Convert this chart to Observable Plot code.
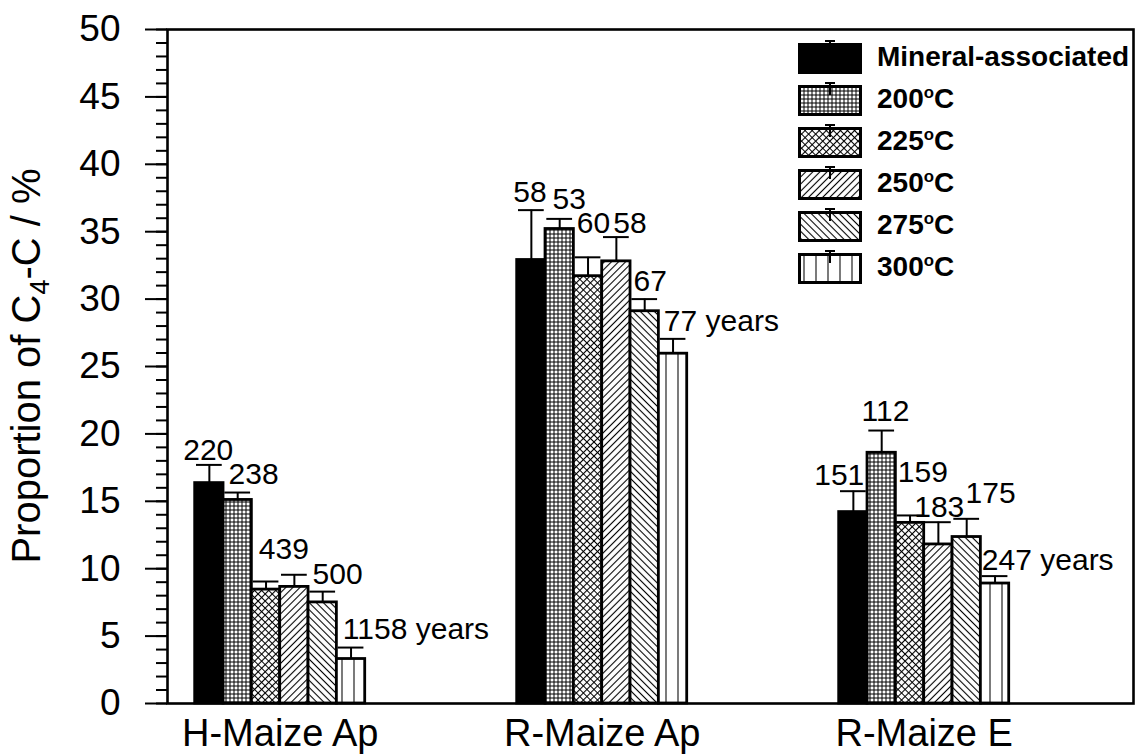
<!DOCTYPE html>
<html>
<head>
<meta charset="utf-8">
<script src="https://cdn.jsdelivr.net/npm/d3@7"></script>
<script src="https://cdn.jsdelivr.net/npm/@observablehq/plot@0.6"></script>
<style>
  body { margin: 0; background: #fff; font-family: "Liberation Sans", Arial, sans-serif; }
  #wrap { position: relative; width: 1140px; height: 754px; }
  #legend .sw { position: absolute; left: 798px; width: 64px; height: 31px; }
  #legend .lb { position: absolute; left: 877px; height: 31px; line-height: 31px;
                font-size: 28px; font-weight: bold; color: #000; white-space: nowrap; }
  #legend .lb sup { font-size: 0.6em; line-height: 0; vertical-align: 0.62em; }
</style>
</head>
<body>
<!-- fill patterns for the temperature fractions -->
<svg width="0" height="0" style="position:absolute">
  <defs>
    <pattern id="pat-solid" width="4" height="4" patternUnits="userSpaceOnUse">
      <rect width="4" height="4" fill="#000"/>
    </pattern>
    <pattern id="pat-grid" width="4" height="4" patternUnits="userSpaceOnUse">
      <rect width="4" height="4" fill="#fff"/>
      <path d="M0 2H4M2 0V4" stroke="#000" stroke-width="1"/>
    </pattern>
    <pattern id="pat-cross" width="5" height="5" patternUnits="userSpaceOnUse" patternTransform="rotate(45)">
      <rect width="5" height="5" fill="#fff"/>
      <path d="M0 2.5H5M2.5 0V5" stroke="#000" stroke-width="1.1"/>
    </pattern>
    <pattern id="pat-fwd" width="5" height="5" patternUnits="userSpaceOnUse" patternTransform="rotate(45)">
      <rect width="5" height="5" fill="#fff"/>
      <line x1="2.5" y1="0" x2="2.5" y2="5" stroke="#000" stroke-width="1.1"/>
    </pattern>
    <pattern id="pat-back" width="5" height="5" patternUnits="userSpaceOnUse" patternTransform="rotate(-45)">
      <rect width="5" height="5" fill="#fff"/>
      <line x1="2.5" y1="0" x2="2.5" y2="5" stroke="#000" stroke-width="1.1"/>
    </pattern>
    <pattern id="pat-vert" width="12" height="4" patternUnits="userSpaceOnUse">
      <rect width="12" height="4" fill="#fff"/>
      <line x1="6" y1="0" x2="6" y2="4" stroke="#333" stroke-width="1.3"/>
    </pattern>
  </defs>
</svg>
<div id="wrap"><div id="legend"></div></div>
<script>
// Soil samples (x categories) and fractions (series)
const groups = ["H-Maize Ap", "R-Maize Ap", "R-Maize E"];
const fractions = ["Mineral-associated", "200", "225", "250", "275", "300"];
const fractionFills = ["url(#pat-solid)", "url(#pat-grid)", "url(#pat-cross)", "url(#pat-fwd)", "url(#pat-back)", "url(#pat-vert)"];

// Proportion of C4-C (%) per fraction, with standard errors
const hMaizeAp = [16.35, 15.1, 8.45, 8.65, 7.5, 3.3];
const hMaizeApErr = [1.35, 0.55, 0.6, 0.9, 0.8, 0.85];
const rMaizeAp = [32.9, 35.2, 31.7, 32.8, 29.1, 25.95];
const rMaizeApErr = [3.7, 0.75, 1.4, 1.8, 0.9, 1.1];
const rMaizeE = [14.2, 18.6, 13.4, 11.8, 12.35, 8.9];
const rMaizeEErr = [1.55, 1.65, 0.55, 1.65, 1.35, 0.55];

// Mean residence times (years) written above the bars
const hMaizeApAge = [220, 238, 439, null, 500, 1158];
const rMaizeApAge = [58, 53, 60, 58, 67, 77];
const rMaizeEAge = [151, 112, 159, 183, 175, 247];

const values = [hMaizeAp, rMaizeAp, rMaizeE];
const errors = [hMaizeApErr, rMaizeApErr, rMaizeEErr];
const ages = [hMaizeApAge, rMaizeApAge, rMaizeEAge];

// Hand placement of the age labels: [dx, dy] in pixels from the top of each error bar
const labelOffsets = [
  [[-12, -5], [5, -9], [7, -23], [0, 0], [4, -8], [6, -9]],
  [[-4, -8], [7, -10], [3, -24], [11, -4], [3, -8], [5, -8]],
  [[-25, -6], [-6, -10], [2, -33], [-10, -5], [13, -16], [1, -6]]
];

const barW = 0.088;   // bar width in group units
const capHalf = 0.04; // half width of the error-bar caps

const rows = [];
groups.forEach((g, gi) => {
  fractions.forEach((f, si) => {
    const x1 = gi + 1 + (si - 3) * barW;
    const age = ages[gi][si];
    rows.push({
      group: g, fraction: f, gi, si,
      value: values[gi][si], err: errors[gi][si],
      top: values[gi][si] + errors[gi][si],
      x1, x2: x1 + barW, xc: x1 + barW / 2,
      label: age == null ? null : (si === fractions.length - 1 ? `${age} years` : `${age}`)
    });
  });
});

const labelMarks = rows.filter(d => d.label != null).map(d => {
  const [dx, dy] = labelOffsets[d.gi][d.si];
  return Plot.text([d], {
    x: "x1", y: "top", text: "label", dx, dy,
    textAnchor: "start", lineAnchor: "bottom",
    fontSize: 30, fill: "#000"
  });
});

const chart = Plot.plot({
  width: 1140,
  height: 754,
  marginLeft: 167,
  marginRight: 7,
  marginTop: 29,
  marginBottom: 51,
  style: { fontFamily: "'Liberation Sans', Arial, sans-serif", color: "#000", background: "#fff", overflow: "visible" },
  x: { type: "linear", domain: [0.65, 3.65] },
  y: { domain: [0, 50] },
  color: { type: "ordinal", domain: fractions, range: fractionFills },
  marks: [
    Plot.rect(rows, {
      x1: "x1", x2: "x2", y1: 0, y2: "value",
      fill: "fraction", stroke: "#000", strokeWidth: 2.8
    }),
    Plot.ruleX(rows, { x: "xc", y1: "value", y2: "top", stroke: "#000", strokeWidth: 2 }),
    Plot.ruleY(rows, { y: "top", x1: d => d.xc - capHalf, x2: d => d.xc + capHalf, stroke: "#000", strokeWidth: 2 }),
    ...labelMarks,
    // minor ticks every 1 %, major ticks every 5 %
    Plot.axisY({ ticks: d3.range(0, 51, 1), tickSize: 11, tickFormat: () => "", label: null, strokeWidth: 2 }),
    Plot.axisY({ ticks: d3.range(0, 51, 5), tickSize: 22, tickPadding: 25, fontSize: 37, label: null, strokeWidth: 2 }),
    Plot.axisX({ ticks: [1, 2, 3], tickFormat: i => groups[i - 1], tickSize: 0, tickPadding: 16, fontSize: 38, label: null }),
    Plot.frame({ stroke: "#000", strokeWidth: 2.6 })
  ]
});

// y-axis title with a subscript
const svg = d3.select(chart);
const title = svg.append("text")
  .attr("transform", "translate(40,366) rotate(-90)")
  .attr("text-anchor", "middle")
  .attr("font-size", 40)
  .attr("fill", "#000");
title.append("tspan").text("Proportion of C");
title.append("tspan").attr("dy", 9).attr("font-size", 27).text("4");
title.append("tspan").attr("dy", -9).text("-C / %");

document.getElementById("wrap").prepend(chart);

// legend drawn inside the plot area, top right
const legend = d3.select("#legend");
fractions.forEach((f, i) => {
  const top = 43 + 42 * i;
  const sw = legend.append("svg").attr("class", "sw").style("top", top + "px")
    .attr("width", 64).attr("height", 31).style("overflow", "visible");
  sw.append("rect").attr("x", 1.5).attr("y", 1.5).attr("width", 61).attr("height", 28)
    .attr("fill", fractionFills[i]).attr("stroke", "#000").attr("stroke-width", 3);
  sw.append("line").attr("x1", 32).attr("x2", 32).attr("y1", -2).attr("y2", 10)
    .attr("stroke", "#000").attr("stroke-width", 2);
  sw.append("line").attr("x1", 27).attr("x2", 37).attr("y1", -2).attr("y2", -2)
    .attr("stroke", "#000").attr("stroke-width", 2);
  const lb = legend.append("div").attr("class", "lb").style("top", (top - 2) + "px");
  if (i === 0) lb.text(f);
  else lb.html(`${f}<sup>o</sup>C`);
});
</script>
</body>
</html>
